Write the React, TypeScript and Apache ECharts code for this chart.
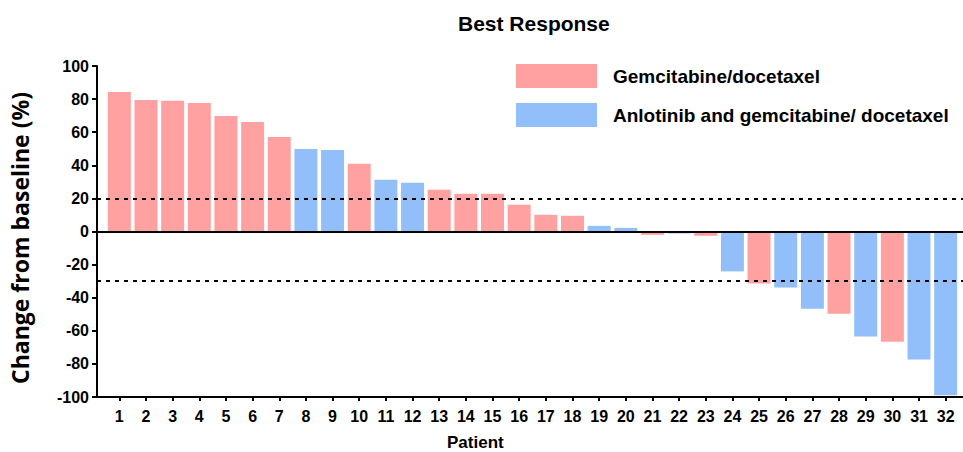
import React, { useEffect, useRef } from "react";
import * as echarts from "echarts";

const patients = ["1","2","3","4","5","6","7","8","9","10","11","12","13","14","15","16","17","18","19","20","21","22","23","24","25","26","27","28","29","30","31","32"];
const gemcitabineDocetaxel = [84.3, 79.5, 79, 77.7, 69.8, 66.2, 57.1, null, null, 40.9, null, null, 25.2, 22.8, 22.8, 16.1, 10.1, 9.5, null, null, -2, null, -2.6, null, -31.4, null, null, -49.7, null, -66.6, null, null];
const anlotinibGemDoc = [null, null, null, null, null, null, null, 49.9, 49.3, null, 31.2, 29.4, null, null, null, null, null, null, 3.4, 2.2, null, -1.2, null, -24.1, null, -33.8, -46.7, null, -63.5, null, -77.4, -99];
const thresholds = [20, -30];
const yMin = -100;
const yMax = 100;
const yInterval = 20;

const SERIES_A = "Gemcitabine/docetaxel";
const SERIES_B = "Anlotinib and gemcitabine/ docetaxel";
const FONT = "Liberation Sans";

export default function App() {
  const ref = useRef<HTMLDivElement>(null);
  useEffect(() => {
    if (!ref.current) return;
    const chart = echarts.init(ref.current, null, { renderer: "svg" });
    const tickLabel = { fontSize: 16, fontWeight: "bold" as const, fontFamily: FONT, color: "#000" };
    chart.setOption({
      animation: false,
      title: {
        text: "Best Response",
        left: 458,
        top: 13,
        padding: 0,
        textStyle: { fontSize: 21, fontWeight: "bold", fontFamily: FONT, color: "#000" },
      },
      legend: {
        data: [SERIES_A, SERIES_B],
        left: 516,
        top: 64,
        padding: 0,
        orient: "vertical",
        itemWidth: 81,
        itemHeight: 24,
        itemGap: 15,
        icon: "rect",
        selectedMode: false,
        textStyle: { fontSize: 19, fontWeight: "bold", fontFamily: FONT, color: "#000", padding: [0, 0, 0, 11] },
      },
      graphic: [
        {
          type: "text",
          left: 447,
          top: 434,
          style: { text: "Patient", font: `bold 17px "${FONT}"`, fill: "#000" },
        },
      ],
      grid: [
        { left: 97, right: 0, top: 66, bottom: 55 },
        { left: 106, right: 4, top: 66, bottom: 55 },
      ],
      xAxis: [
        {
          gridIndex: 0,
          type: "value",
          min: 0,
          max: 1,
          axisLine: { show: true, onZero: false, lineStyle: { color: "#000", width: 2 } },
          axisTick: { show: false },
          axisLabel: { show: false },
          splitLine: { show: false },
        },
        {
          gridIndex: 1,
          type: "category",
          data: patients,
          axisLine: { show: false, onZero: false },
          axisTick: { show: true, alignWithLabel: true, length: 4, lineStyle: { color: "#000", width: 2 } },
          axisLabel: { ...tickLabel, margin: 11, interval: 0 },
          splitLine: { show: false },
        },
      ],
      yAxis: [
        {
          gridIndex: 0,
          type: "value",
          min: yMin,
          max: yMax,
          interval: yInterval,
          axisLine: { show: true, lineStyle: { color: "#000", width: 2 } },
          axisTick: { show: true, length: 5, lineStyle: { color: "#000", width: 2 } },
          axisLabel: { ...tickLabel, margin: 8 },
          splitLine: { show: false },
          name: "Change from baseline (%)",
          nameLocation: "middle",
          nameGap: 66,
          nameTextStyle: { fontSize: 23, fontWeight: "bold", fontFamily: "Open Sans", color: "#000", padding: [0, 13, 0, 0] },
        },
        { gridIndex: 1, type: "value", min: yMin, max: yMax, show: false },
      ],
      series: [
        {
          name: SERIES_A,
          type: "bar",
          xAxisIndex: 1,
          yAxisIndex: 1,
          data: gemcitabineDocetaxel,
          barWidth: 23,
          barGap: "-100%",
          itemStyle: { color: "#FFA1A1" },
          z: 2,
        },
        {
          name: SERIES_B,
          type: "bar",
          xAxisIndex: 1,
          yAxisIndex: 1,
          data: anlotinibGemDoc,
          barWidth: 23,
          barGap: "-100%",
          itemStyle: { color: "#92BFFA" },
          z: 2,
        },
        {
          name: "reference",
          type: "line",
          xAxisIndex: 0,
          yAxisIndex: 0,
          data: [],
          z: 5,
          markLine: {
            silent: true,
            symbol: "none",
            label: { show: false },
            z: 5,
            data: [
              { yAxis: 0, lineStyle: { color: "#000", width: 2, type: "solid" } },
              ...thresholds.map((t) => ({ yAxis: t, lineStyle: { color: "#000", width: 2, type: [4, 5] } })),
            ],
          },
        },
      ],
    });
    return () => chart.dispose();
  }, []);
  return <div ref={ref} style={{ position: "absolute", left: 0, top: 0, width: 963, height: 452 }} />;
}
